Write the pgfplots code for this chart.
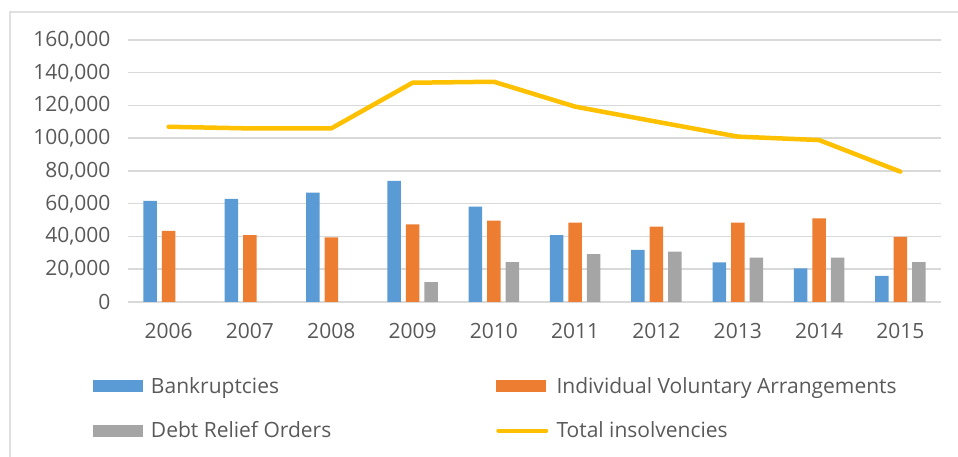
\documentclass[border=0pt]{standalone}
\usepackage{pgfplots}
\pgfplotsset{compat=1.18}
\usepackage{fontspec}
\setmainfont{Open Sans}
\definecolor{cBlue}{HTML}{5B9BD5}
\definecolor{cOrange}{HTML}{ED7D31}
\definecolor{cGray}{HTML}{A5A5A5}
\definecolor{cGold}{HTML}{FFC000}
\definecolor{cGrid}{HTML}{D9D9D9}
\definecolor{cText}{HTML}{595959}
\begin{document}
\begin{tikzpicture}[x=1pt,y=1pt]
\useasboundingbox (0,0) rectangle (958,457);
\draw[black!12, line width=1.2pt] (10,-20) rectangle (990,445);
\begin{axis}[
  at={(128pt,155pt)}, anchor=south west,
  scale only axis, width=813pt, height=262pt,
  xmin=-0.5, xmax=9.5, ymin=0, ymax=160000,
  xtick={0,...,9},
  xticklabels={2006,2007,2008,2009,2010,2011,2012,2013,2014,2015},
  ytick={0,20000,...,160000},
  scaled y ticks=false,
  /pgf/number format/.cd, fixed, 1000 sep={,}, assume math mode=true,
  /pgfplots/.cd,
  major tick length=0pt,
  axis line style={draw=none},
  ymajorgrids, major grid style={cGrid, line width=1.5pt},
  tick label style={font=\fontsize{21}{25}\selectfont, text=cText},
  yticklabel style={xshift=-14pt},
  xticklabel style={yshift=-18pt},
  legend style={at={(-0.047,-0.272)}, anchor=north west, draw=none, fill=none,
    font=\fontsize{21}{25}\selectfont, text=cText,
    legend columns=2, row sep=23pt,
    /tikz/every even column/.append style={column sep=163pt}},
  legend cell align=left,
]
\addplot[ybar, bar width=13.5pt, bar shift=-18.5pt, fill=cBlue, draw=none,
  legend image code/.code={\fill[cBlue] (0pt,-6pt) rectangle (50pt,6pt); \path (56pt,0pt);}]
  coordinates {(0,61700) (1,63000) (2,66800) (3,73900) (4,58200) (5,40900) (6,31800) (7,24200) (8,20600) (9,15900)};
\addlegendentry{Bankruptcies}
\addplot[ybar, bar width=13.5pt, bar shift=0pt, fill=cOrange, draw=none,
  legend image code/.code={\fill[cOrange] (0pt,-6pt) rectangle (50pt,6pt); \path (56pt,0pt);}]
  coordinates {(0,43500) (1,40900) (2,39500) (3,47400) (4,49700) (5,48400) (6,46000) (7,48400) (8,51100) (9,39700)};
\addlegendentry{Individual Voluntary Arrangements}
\addplot[ybar, bar width=13.5pt, bar shift=18.5pt, fill=cGray, draw=none,
  legend image code/.code={\fill[cGray] (0pt,-6pt) rectangle (50pt,6pt); \path (56pt,0pt);}]
  coordinates {(3,12200) (4,24400) (5,29300) (6,30700) (7,27100) (8,27100) (9,24400)};
\addlegendentry{Debt Relief Orders}
\addplot[sharp plot, cGold, line width=4.5pt, mark=none, line join=round, line cap=round,
  legend image code/.code={\draw[cGold, line width=4pt, line cap=round] (2pt,0pt) -- (50pt,0pt); \path (56pt,0pt);}]
  coordinates {(0,107000) (1,106000) (2,106000) (3,133900) (4,134500) (5,119300) (6,110100) (7,101000) (8,98900) (9,79600)};
\addlegendentry{Total insolvencies}
\end{axis}
\end{tikzpicture}
\end{document}
